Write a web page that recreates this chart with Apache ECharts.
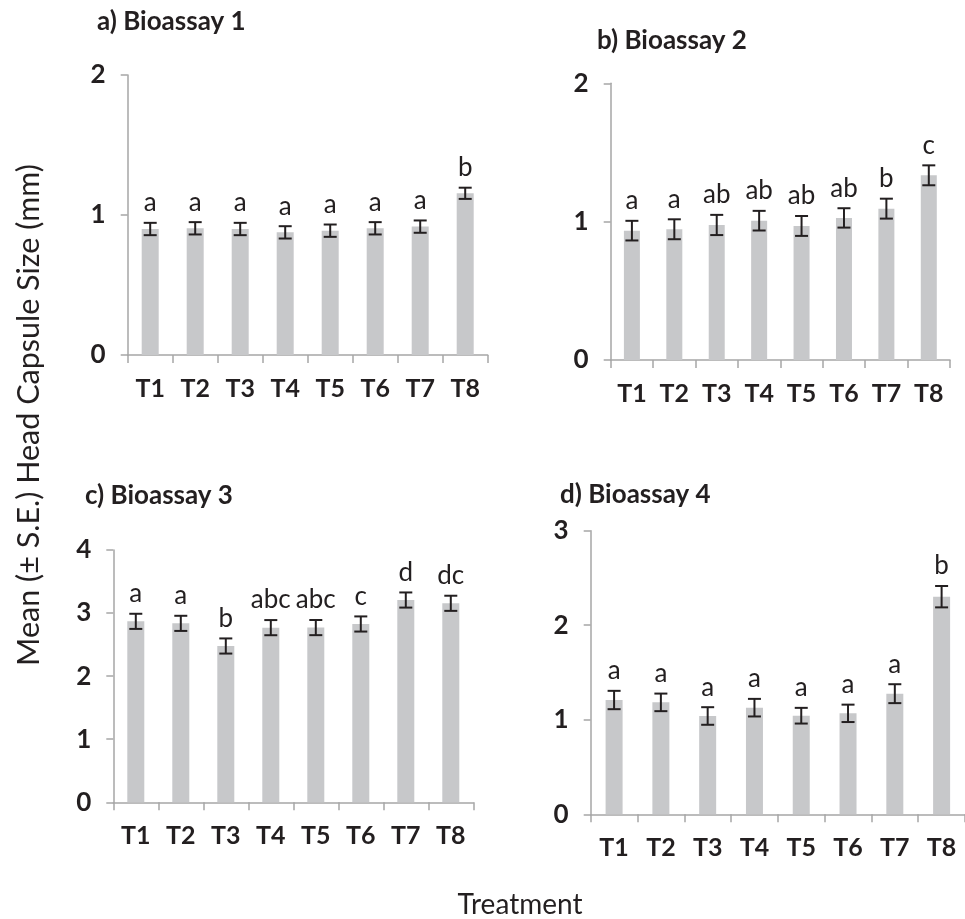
<!DOCTYPE html>
<html>
<head>
<meta charset="utf-8">
<script src="https://cdn.jsdelivr.net/npm/echarts@6/dist/echarts.min.js"></script>
<style>
html,body{margin:0;padding:0;background:#fff;}
#chart{width:965px;height:919px;}
</style>
</head>
<body>
<div id="chart"></div>
<script>
// ---- data ----
const categories = ['T1','T2','T3','T4','T5','T6','T7','T8'];

const meansA = [0.90, 0.905, 0.90, 0.876, 0.888, 0.905, 0.917, 1.155];
const seA    = [0.044, 0.044, 0.044, 0.044, 0.044, 0.044, 0.044, 0.04];
const lettersA = ['a','a','a','a','a','a','a','b'];

const meansB = [0.935, 0.945, 0.976, 1.007, 0.969, 1.027, 1.094, 1.335];
const seB    = [0.071, 0.072, 0.073, 0.071, 0.072, 0.07, 0.072, 0.072];
const lettersB = ['a','a','ab','ab','ab','ab','b','c'];

const meansC = [2.869, 2.837, 2.478, 2.769, 2.77, 2.827, 3.207, 3.155];
const seC    = [0.12, 0.12, 0.12, 0.12, 0.12, 0.12, 0.12, 0.12];
const lettersC = ['a','a','b','abc','abc','c','d','dc'];

const meansD = [1.209, 1.184, 1.04, 1.128, 1.043, 1.068, 1.276, 2.302];
const seD    = [0.097, 0.093, 0.093, 0.093, 0.083, 0.092, 0.10, 0.113];
const lettersD = ['a','a','a','a','a','a','a','b'];

const yMaxA = 2, yMaxB = 2, yMaxC = 4, yMaxD = 3;

const titles = ['a) Bioassay 1','b) Bioassay 2','c) Bioassay 3','d) Bioassay 4'];
const yAxisName = 'Mean (\u00b1 S.E.) Head Capsule Size (mm)';
const xAxisName = 'Treatment';

// ---- styling ----
const FONT = 'Lato';
const TXT = '#231f20';
const AXIS = '#a6a6a6';
const BAR = '#c7c8ca';

const panels = [
  {means: meansA, se: seA, letters: lettersA, max: yMaxA, barW: 17,
   grid: {left: 127.7, right: 477.3, top: 75, bottom: 564}, title: {left: 97, top: 9}},
  {means: meansB, se: seB, letters: lettersB, max: yMaxB, barW: 16,
   grid: {left: 610.7, right: 15, top: 83.3, bottom: 559}, title: {left: 597, top: 28}},
  {means: meansC, se: seC, letters: lettersC, max: yMaxC, barW: 17,
   grid: {left: 113.3, right: 491.7, top: 550, bottom: 116.7}, title: {left: 85, top: 483}},
  {means: meansD, se: seD, letters: lettersD, max: yMaxD, barW: 17,
   grid: {left: 590.7, right: -4, top: 530.7, bottom: 104.7}, title: {left: 560, top: 482}}
];

const option = {
  animation: false,
  backgroundColor: '#fff',
  title: panels.map((p, i) => ({
    text: titles[i], left: p.title.left, top: p.title.top, padding: 0,
    textStyle: {fontFamily: FONT, fontWeight: 'bold', fontSize: 26, color: TXT}
  })),
  grid: panels.map(p => Object.assign({containLabel: false}, p.grid)),
  xAxis: panels.map((p, i) => ({
    type: 'category', gridIndex: i, data: categories, boundaryGap: true,
    axisLine: {show: true, lineStyle: {color: AXIS, width: 1.5}},
    axisTick: {show: true, length: 8, alignWithLabel: false, lineStyle: {color: AXIS, width: 1.5}},
    axisLabel: {fontFamily: FONT, fontWeight: 'bold', fontSize: 25, color: TXT, margin: 21, interval: 0},
    splitLine: {show: false}
  })),
  yAxis: panels.map((p, i) => ({
    type: 'value', gridIndex: i, min: 0, max: p.max, interval: 1,
    axisLine: {show: true, lineStyle: {color: AXIS, width: 1.5}},
    axisTick: {show: true, length: 7, lineStyle: {color: AXIS, width: 1.5}},
    axisLabel: {fontFamily: FONT, fontWeight: 'bold', fontSize: 26, color: TXT, margin: 22},
    splitLine: {show: false}
  })),
  series: [],
  graphic: [
    {type: 'text', x: 29, y: 415, rotation: Math.PI / 2,
     style: {text: yAxisName, fontFamily: FONT, fontSize: 30.5, fill: TXT, textAlign: 'center', textVerticalAlign: 'middle'}},
    {type: 'text', x: 520, y: 905,
     style: {text: xAxisName, fontFamily: FONT, fontSize: 28, fill: TXT, textAlign: 'center', textVerticalAlign: 'middle'}}
  ]
};

panels.forEach((p, i) => {
  option.series.push({
    type: 'bar', xAxisIndex: i, yAxisIndex: i, data: p.means,
    barWidth: p.barW, itemStyle: {color: BAR}, silent: true
  });
  option.series.push({
    type: 'custom', xAxisIndex: i, yAxisIndex: i, silent: true, z: 5,
    data: p.means.map((m, k) => [k, m - p.se[k], m + p.se[k]]),
    renderItem: function (params, api) {
      const k = api.value(0);
      const lo = api.coord([k, api.value(1)]);
      const hi = api.coord([k, api.value(2)]);
      const hw = 6.5;
      const st = {stroke: TXT, lineWidth: 2};
      return {
        type: 'group',
        children: [
          {type: 'line', shape: {x1: lo[0], y1: lo[1], x2: hi[0], y2: hi[1]}, style: st},
          {type: 'line', shape: {x1: hi[0] - hw, y1: hi[1], x2: hi[0] + hw, y2: hi[1]}, style: st},
          {type: 'line', shape: {x1: lo[0] - hw, y1: lo[1], x2: lo[0] + hw, y2: lo[1]}, style: st},
          {type: 'text', style: {text: p.letters[params.dataIndex], x: hi[0], y: hi[1] - 7,
            textAlign: 'center', textVerticalAlign: 'bottom', fontFamily: FONT, fontSize: 26, fill: TXT}}
        ]
      };
    }
  });
});

const chart = echarts.init(document.getElementById('chart'), null, {renderer: 'canvas'});
chart.setOption(option);
</script>
</body>
</html>
